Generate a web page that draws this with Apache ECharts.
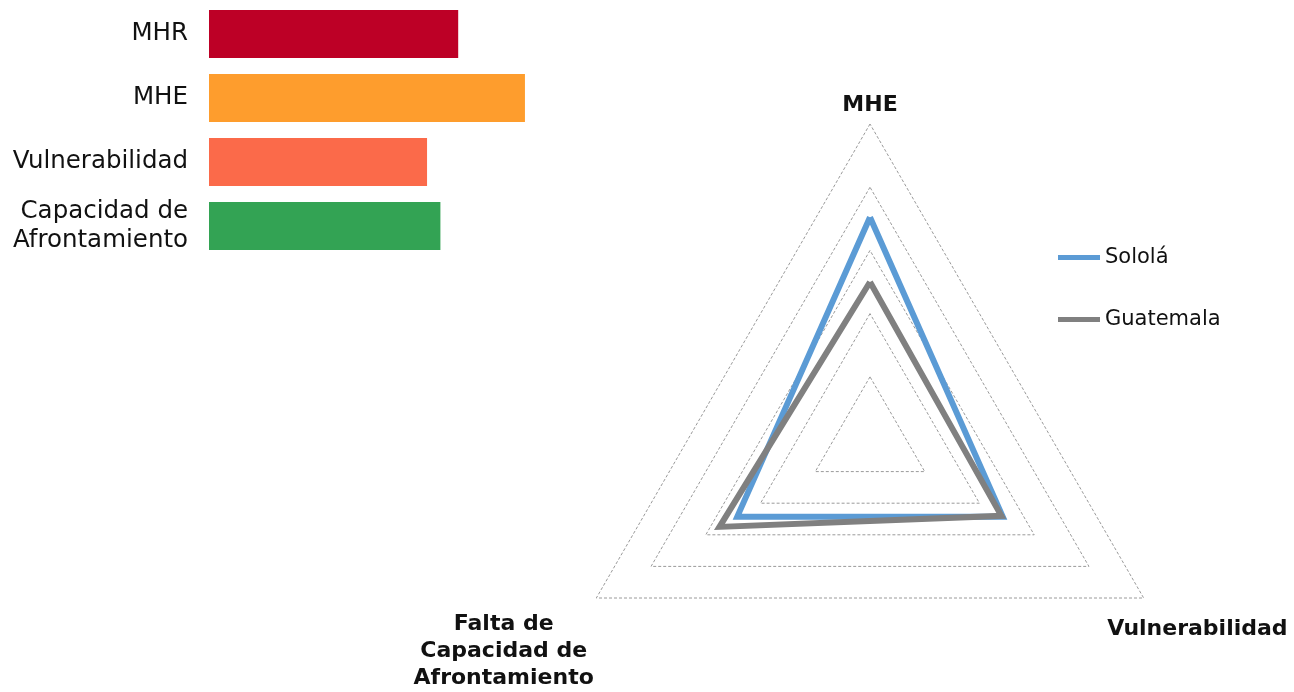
<!DOCTYPE html>
<html>
<head>
<meta charset="utf-8">
<script src="https://cdn.jsdelivr.net/npm/echarts@6/dist/echarts.min.js"></script>
<style>
  html, body { margin: 0; padding: 0; background: #fff; }
  #chart { width: 1294px; height: 692px; }
</style>
</head>
<body>
<div id="chart"></div>
<script>
// left: component bars
const barCategories = ['MHR', 'MHE', 'Vulnerabilidad', 'Capacidad de\nAfrontamiento']
const barValues = [5.6, 7.1, 4.9, 5.2]

// right: radar
const radarIndicators = ['MHE', 'Falta de\nCapacidad de\nAfrontamiento', 'Vulnerabilidad']
const radarMax = 10
const seriesNames = ['Sololá', 'Guatemala']
const sololaValues = [7.05, 4.85, 4.85]
const guatemalaValues = [5.0, 5.5, 4.8]

const barColors = ['#bd0026', '#fe9d2d', '#fb6a4a', '#33a354']
const lineColors = ['#5b9bd5', '#808080']
const font = '"DejaVu Sans", Verdana, sans-serif'

// label placement for each radar corner
const nameLayout = [
  { nameGap: 5, nameTextStyle: {} },
  { nameGap: 107, nameTextStyle: { align: 'center', verticalAlign: 'middle', lineHeight: 27 } },
  { nameGap: 62, nameTextStyle: { align: 'center', verticalAlign: 'middle' } },
]

const chart = echarts.init(document.getElementById('chart'))

chart.setOption({
  backgroundColor: '#fff',
  animation: false,
  grid: { left: 209, top: 2, width: 445, height: 256 },
  xAxis: { type: 'value', min: 0, max: 10, show: false },
  yAxis: {
    type: 'category',
    inverse: true,
    data: barCategories,
    axisLine: { show: false },
    axisTick: { show: false },
    axisLabel: { color: '#111', fontSize: 24.5, fontFamily: font, lineHeight: 29, margin: 21 },
  },
  legend: {
    orient: 'vertical',
    left: 1058,
    top: 247,
    padding: 0,
    itemWidth: 42,
    itemHeight: 5,
    itemGap: 41,
    icon: 'rect',
    textStyle: { color: '#111', fontSize: 21, fontFamily: font },
    data: seriesNames,
  },
  radar: {
    center: [870, 440],
    radius: 316,
    shape: 'polygon',
    splitNumber: 5,
    indicator: radarIndicators.map((name, i) => ({ name, max: radarMax, min: 0, ...nameLayout[i] })),
    axisName: { color: '#111', fontSize: 22, fontWeight: 'bold', fontFamily: font, lineHeight: 27 },
    axisLine: { show: false },
    splitArea: { show: false },
    splitLine: { lineStyle: { color: '#9a9a9a', width: 1, type: [3, 2] } },
  },
  series: [
    {
      type: 'bar',
      data: barValues.map((value, idx) => ({ value, itemStyle: { color: barColors[idx] } })),
      barCategoryGap: '25%',
      silent: true,
    },
    {
      type: 'radar',
      symbol: 'none',
      data: [
        { name: seriesNames[0], value: sololaValues, lineStyle: { color: lineColors[0], width: 6, join: 'miter' }, itemStyle: { color: lineColors[0] } },
        { name: seriesNames[1], value: guatemalaValues, lineStyle: { color: lineColors[1], width: 6, join: 'miter' }, itemStyle: { color: lineColors[1] } },
      ],
    },
  ],
})
</script>
</body>
</html>
